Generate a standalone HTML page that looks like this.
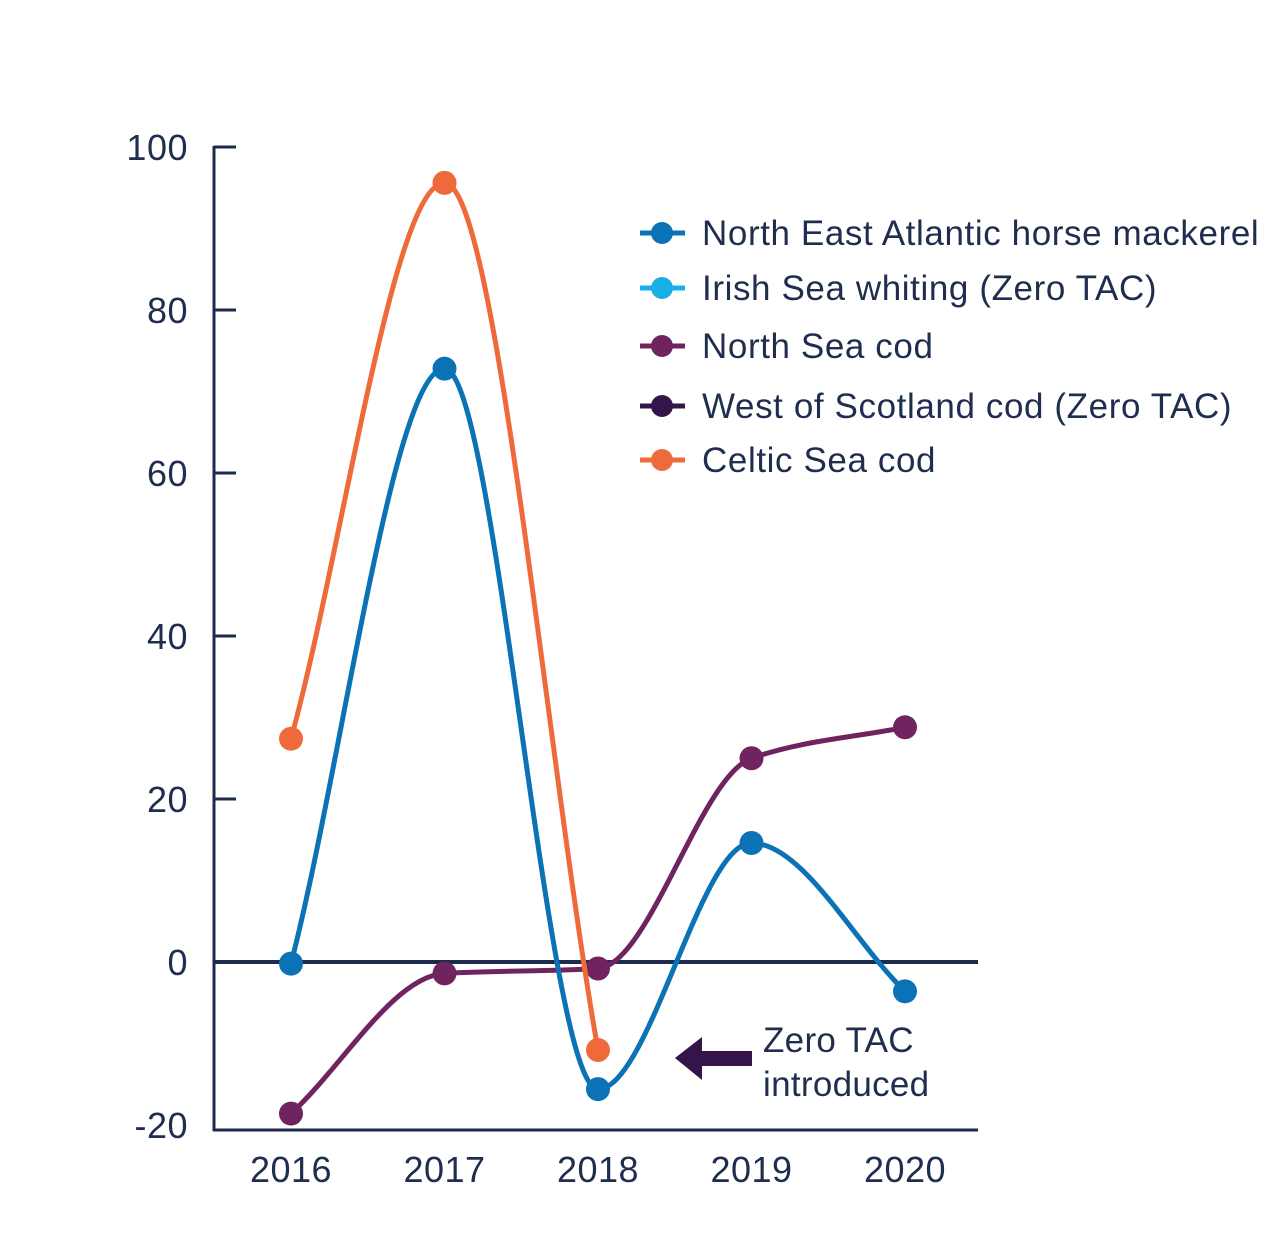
<!DOCTYPE html>
<html><head><meta charset="utf-8"><style>
body{margin:0;background:#fff;}
svg{display:block;font-family:"Liberation Sans",sans-serif;}
</style></head><body>
<svg id="chart" width="1275" height="1248" viewBox="0 0 1275 1248">
<g id="axes"></g><g id="series"></g><g id="legend"></g>
<g>
<rect x="697" y="1051" width="55" height="15" fill="#34154a"/>
<polygon points="675,1058 702,1037 702,1080" fill="#34154a"/>
<text x="763" y="1052" font-size="35" letter-spacing="0.3" fill="#1f2d4e">Zero TAC</text>
<text x="763" y="1096" font-size="35" letter-spacing="0.3" fill="#1f2d4e">introduced</text>
</g>
</svg>
<script>
const years = [2016, 2017, 2018, 2019, 2020];
const yTicks = [100, 80, 60, 40, 20, 0, -20];
const seriesNames = ["North East Atlantic horse mackerel","Irish Sea whiting (Zero TAC)","North Sea cod","West of Scotland cod (Zero TAC)","Celtic Sea cod"];
const horseMackerel = [-0.2, 72.8, -15.6, 14.6, -3.6];
const irishWhiting = [];
const northSeaCod = [-18.6, -1.4, -0.8, 25, 28.8];
const westScotlandCod = [];
const celticCod = [27.4, 95.6, -10.8];
const colors = ["#0b72b5","#1aaee8","#70245f","#34154a","#ef6a3b"];

const NS="http://www.w3.org/2000/svg";
function xs(i){return 291 + i*153.5;}
function ys(v){return 962 - v*8.15;}
function mk(tag,attrs,parent){const e=document.createElementNS(NS,tag);for(const k in attrs)e.setAttribute(k,attrs[k]);parent.appendChild(e);return e;}
const axes=document.getElementById('axes');
let yl=mk('line',{x1:214,y1:146,x2:214,y2:1131,stroke:"#1c2b4d","stroke-width":3},axes);


let xl=mk('line',{x1:213,y1:1130,x2:978,y2:1130,stroke:"#1c2b4d","stroke-width":3},axes);


let zl=mk('line',{x1:213,y1:962,x2:978,y2:962,stroke:"#1c2b4d","stroke-width":4},axes);


yTicks.forEach(v=>{
  const y=ys(v);
  if(v!==-20&&v!==0){const t=mk('line',{x1:214,y1:y,x2:236,y2:y,stroke:"#1c2b4d","stroke-width":3},axes);
  
  }
  const tx=mk('text',{x:188,y:y+13,"font-size":36,fill:"#1f2d4e","text-anchor":"end","letter-spacing":0.5},axes);
  tx.textContent=v;
  
  
});
years.forEach((yr,i)=>{
  const tx=mk('text',{x:xs(i),y:1182,"font-size":36,fill:"#1f2d4e","text-anchor":"middle","letter-spacing":0.5},axes);
  tx.textContent=yr;
  
  
});
function path(pts){
  const n=pts.length;if(n<2)return "";
  const d=[],m=[];
  for(let i=0;i<n-1;i++)d.push((pts[i+1][1]-pts[i][1])/(pts[i+1][0]-pts[i][0]));
  for(let i=0;i<n;i++){
    if(i===0)m.push(d[0]);else if(i===n-1)m.push(d[n-2]);
    else m.push(d[i-1]*d[i]<=0?0:2/(1/d[i-1]+1/d[i]));
  }
  let s=`M${pts[0][0]},${pts[0][1]}`;
  for(let i=0;i<n-1;i++){
    const h=(pts[i+1][0]-pts[i][0])/3;
    s+=` C${pts[i][0]+h},${pts[i][1]+m[i]*h} ${pts[i+1][0]-h},${pts[i+1][1]-m[i+1]*h} ${pts[i+1][0]},${pts[i+1][1]}`;
  }
  return s;
}
const sg=document.getElementById('series');
const all=[horseMackerel,irishWhiting,northSeaCod,westScotlandCod,celticCod];
const order=[2,0,4,1,3];
order.forEach(si=>{
  const data=all[si];if(!data.length)return;
  const g=mk('g',{},sg);
  
  
  const pts=data.map((v,i)=>[xs(i),ys(v)]);
  const p=mk('path',{d:path(pts),fill:"none",stroke:colors[si],"stroke-width":5},g);
  
  
  pts.forEach(pt=>{
    const c=mk('circle',{cx:pt[0],cy:pt[1],r:12,fill:colors[si]},g);
    
    
  });
});
const lg=document.getElementById('legend');
const ly=[233,288,346,406,460];
seriesNames.forEach((n,i)=>{
  const g=mk('g',{},lg);
  
  
  mk('line',{x1:640,y1:ly[i],x2:685,y2:ly[i],stroke:colors[i],"stroke-width":5},g);
  mk('circle',{cx:662,cy:ly[i],r:11,fill:colors[i]},g);
  const t=mk('text',{x:702,y:ly[i]+12,"font-size":35,fill:"#1f2d4e","letter-spacing":0.6},g);
  t.textContent=n;
});
</script>
</body></html>
